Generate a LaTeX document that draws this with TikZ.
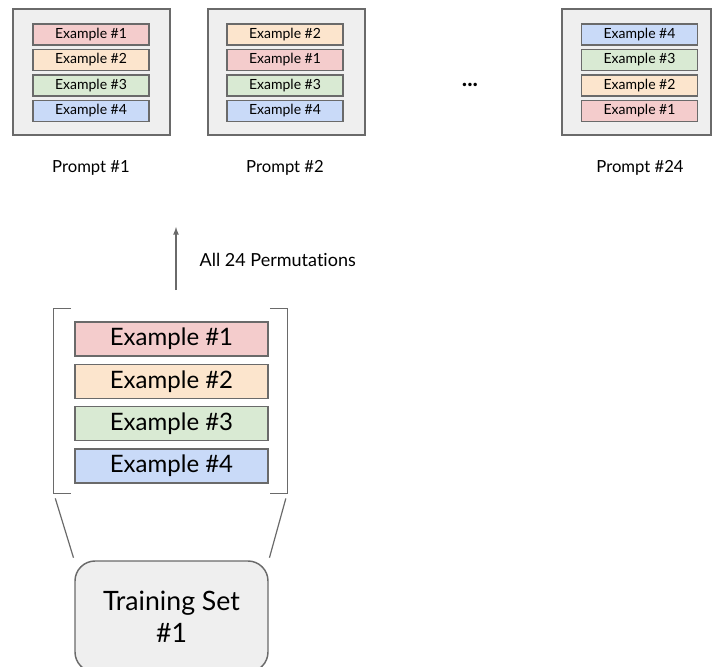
\documentclass[tikz,border=0pt]{standalone}
\usepackage{fontspec}
\setmainfont{Lato}[Ligatures=NoCommon]
\definecolor{exred}{HTML}{F4CCCC}
\definecolor{exorange}{HTML}{FCE5CD}
\definecolor{exgreen}{HTML}{D9EAD3}
\definecolor{exblue}{HTML}{C9DAF8}
\definecolor{edgegray}{HTML}{6A6A6A}
\definecolor{panel}{HTML}{EFEFEF}
\begin{document}
\begin{tikzpicture}[>=latex, x=0.75pt, y=-0.75pt,
  frame/.style={draw=edgegray, fill=panel, line width=1.1pt, minimum width=117.75pt, minimum height=94.5pt},
  small/.style={draw=edgegray, line width=0.9pt, inner sep=0pt, minimum width=87pt, minimum height=15.75pt, font=\fontsize{10.5}{12}\selectfont},
  big/.style={draw=edgegray, line width=1pt, inner sep=0pt, minimum width=144.75pt, minimum height=25.5pt, font=\fontsize{18}{20}\selectfont},
  caption/.style={font=\fontsize{12.5}{14}\selectfont}]
\useasboundingbox (0,0) rectangle (712,666);
% prompts
\node[frame] (p1) at (91.5,72) {};
\node[frame] (p2) at (286.5,72) {};
\node[frame, minimum width=111.75pt] (p24) at (636.5,72) {};
\foreach \n/\c [count=\i] in {1/exred,2/exorange,3/exgreen,4/exblue}
  \node[small, fill=\c] (a\i) at (91,{34.5+25.5*(\i-1)}) {Example \#\n};
\foreach \n/\c [count=\i] in {2/exorange,1/exred,3/exgreen,4/exblue}
  \node[small, fill=\c] (b\i) at (285,{34.5+25.5*(\i-1)}) {Example \#\n};
\foreach \n/\c [count=\i] in {4/exblue,3/exgreen,2/exorange,1/exred}
  \node[small, fill=\c] (c\i) at (639.5,{34.5+25.5*(\i-1)}) {Example \#\n};
\node[caption] (l1) at (91,168) {Prompt \#1};
\node[caption] (l2) at (285,168) {Prompt \#2};
\node[caption] (l24) at (640,168) {Prompt \#24};
\node[font=\fontsize{17}{18}\selectfont\bfseries] (dots) at (470,85) {...};
% permutations
\coordinate (up0) at (176,290);
\coordinate (up1) at (176,227);
\draw[->, edgegray, line width=1pt] (up0) -- (up1);
\node[caption, font=\fontsize{13.5}{15}\selectfont, anchor=west] (perm) at (195,260) {All 24 Permutations};
% training set
\node[minimum width=174.75pt, minimum height=138pt] (set) at (170.5,401) {};
\draw[edgegray, line width=1pt] ([xshift=13pt]set.north west) -- (set.north west) -- (set.south west) -- ++(13pt,0);
\draw[edgegray, line width=1pt] ([xshift=-13pt]set.north east) -- (set.north east) -- (set.south east) -- ++(-13pt,0);
\foreach \n/\c [count=\i] in {1/exred,2/exorange,3/exgreen,4/exblue}
  \node[big, fill=\c] (e\i) at (171.5,{339+42.3*(\i-1)}) {Example \#\n};
\node[draw=edgegray, fill=panel, line width=1.1pt, rounded corners=15pt, minimum width=144.75pt, minimum height=83.25pt, align=center, font=\fontsize{20}{24}\selectfont] (train) at (171.5,616.5) {Training Set\\\#1};
\draw[edgegray, line width=0.9pt, shorten <=4pt, shorten >=2pt] (set.south west) -- (train.north west);
\draw[edgegray, line width=0.9pt, shorten <=4pt, shorten >=2pt] (set.south east) -- (train.north east);
\end{tikzpicture}
\end{document}
